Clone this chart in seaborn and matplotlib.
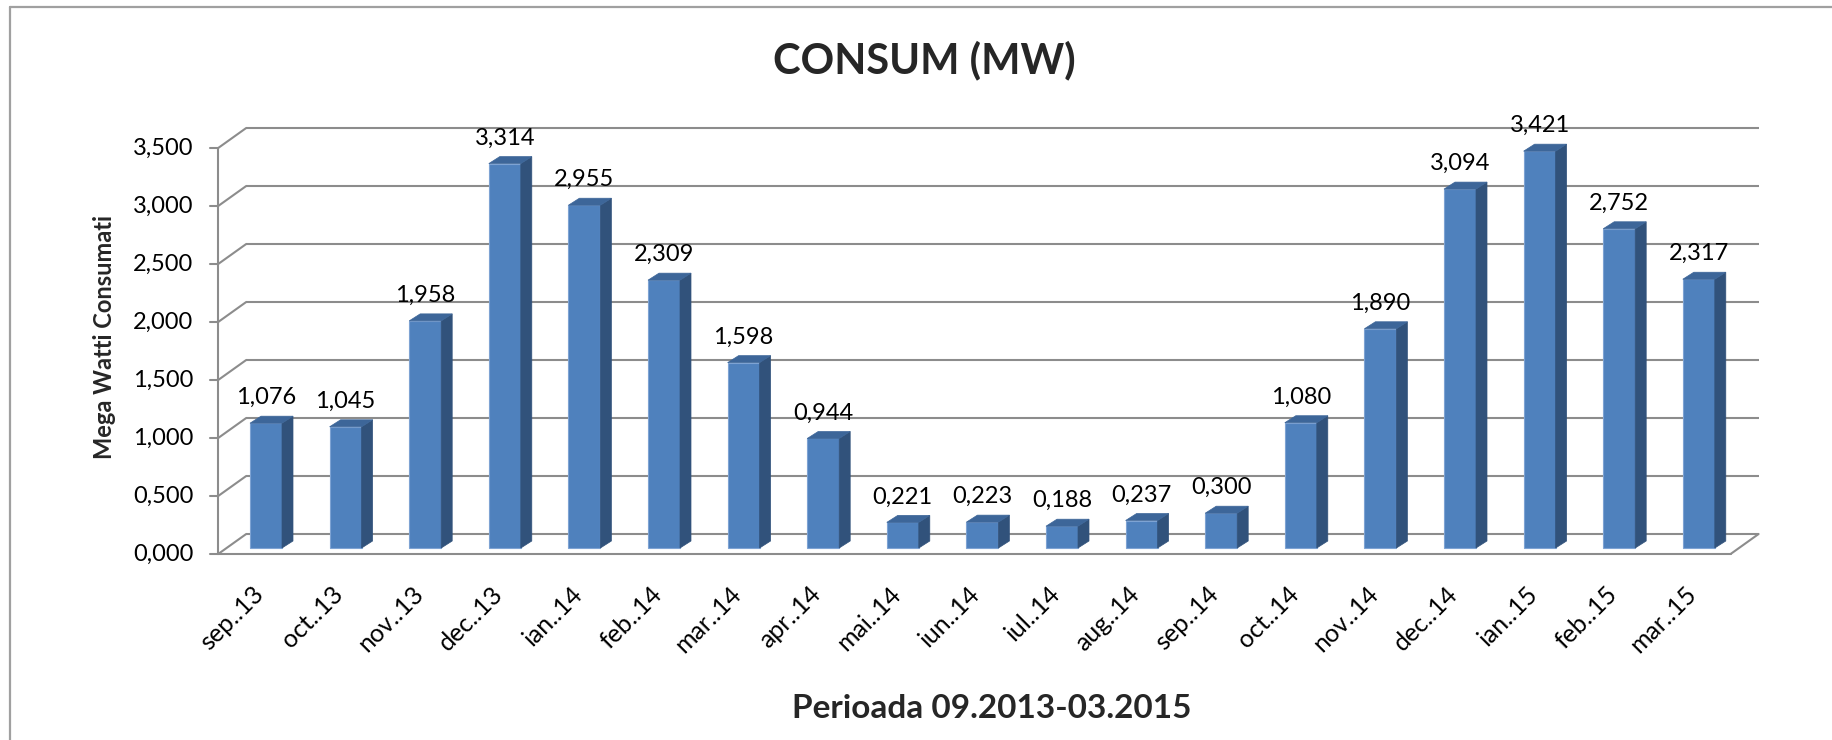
import numpy as np
import pandas as pd
import seaborn as sns
import matplotlib.pyplot as plt
from matplotlib.patches import Polygon
from matplotlib.lines import Line2D

# data
months = ["sep..13", "oct..13", "nov..13", "dec..13", "ian..14", "feb..14", "mar..14",
          "apr..14", "mai..14", "iun..14", "iul..14", "aug..14", "sep..14", "oct..14",
          "nov..14", "dec..14", "ian..15", "feb..15", "mar..15"]
consum = [1.076, 1.045, 1.958, 3.314, 2.955, 2.309, 1.598, 0.944, 0.221, 0.223,
          0.188, 0.237, 0.300, 1.080, 1.890, 3.094, 3.421, 2.752, 2.317]
yticks = [0.0, 0.5, 1.0, 1.5, 2.0, 2.5, 3.0, 3.5]

title = "CONSUM (MW)"
xlabel = "Perioada 09.2013-03.2015"
ylabel = "Mega Watti Consumati"

sns.set_theme(style="white")
plt.rcParams["font.family"] = ["Lato", "DejaVu Sans"]

W, H = 1833, 740
fig = plt.figure(figsize=(W / 100, H / 100), dpi=100)
ax = fig.add_axes([0, 0, 1, 1])

# pixel geometry of the bar plane (front faces)
X0, DX = 266.0, 79.6     # pixel x of first bar centre, pixels per category
Y0, DY = 548.0, 116.0    # pixel y (from top) of value 0, pixels per unit


def px(ox, oy):
    """pixel offset (right, up) -> data offset"""
    return ox / DX, oy / DY


FRONT = px(-8, -6)
BACK = px(20, 14)
DEPTH = px(11, 7)
BAR_W = 32 / DX

front_col = "#4F81BD"
side_col = "#31527B"
top_col = "#3D6699"
grid_col = "#8C8C8C"

df = pd.DataFrame({"luna": months, "consum": consum})

# back wall gridlines + left wall diagonals
xl, xr = -0.5, len(months) - 0.5
for v in yticks:
    ax.plot([xl + BACK[0], xr + BACK[0]], [v + BACK[1], v + BACK[1]],
            color=grid_col, lw=1.5, zorder=1, solid_capstyle="butt")
    ax.plot([xl + FRONT[0], xl + BACK[0]], [v + FRONT[1], v + BACK[1]],
            color=grid_col, lw=1.5, zorder=1)
    # tick mark
    ax.plot([xl + FRONT[0] - 8 / DX, xl + FRONT[0]], [v + FRONT[1], v + FRONT[1]],
            color=grid_col, lw=1.5, zorder=1)
    ax.text(xl + FRONT[0] - 25 / DX, v + FRONT[1], f"{v:.3f}".replace(".", ","),
            ha="right", va="center", fontsize=17, color="black")

# floor front edge, right edge, front vertical axis
ax.plot([xl + FRONT[0], xr + FRONT[0]], [FRONT[1], FRONT[1]], color=grid_col, lw=1.5, zorder=1)
ax.plot([xr + FRONT[0], xr + BACK[0]], [FRONT[1], BACK[1]], color=grid_col, lw=1.5, zorder=1)
ax.plot([xl + FRONT[0], xl + FRONT[0]], [FRONT[1], yticks[-1] + FRONT[1]],
        color=grid_col, lw=1.5, zorder=1)

# front faces of the bars
sns.barplot(data=df, x="luna", y="consum", color=front_col, saturation=1,
            width=BAR_W, edgecolor="#7EA3D3", linewidth=0.8, ax=ax, zorder=3)

# side and top faces
for i, v in enumerate(consum):
    x1 = i + BAR_W / 2
    x0 = i - BAR_W / 2
    side = Polygon([(x1, 0), (x1 + DEPTH[0], DEPTH[1]), (x1 + DEPTH[0], v + DEPTH[1]), (x1, v)],
                   closed=True, facecolor=side_col, edgecolor=side_col, lw=0.5, zorder=3)
    top = Polygon([(x0, v), (x1, v), (x1 + DEPTH[0], v + DEPTH[1]), (x0 + DEPTH[0], v + DEPTH[1])],
                  closed=True, facecolor=top_col, edgecolor=top_col, lw=0.5, zorder=3)
    ax.add_patch(side)
    ax.add_patch(top)
    ax.text(i, v + 19 / DY, f"{v:.3f}".replace(".", ","), ha="center", va="baseline",
            fontsize=17, color="black", zorder=4)
    # category labels
    ax.text(i - 6 / DX, -42 / DY, months[i], rotation=45, rotation_mode="anchor",
            ha="right", va="center", fontsize=18, color="black")

ax.set_xlim(-X0 / DX, (W - X0) / DX)
ax.set_ylim((Y0 - H) / DY, Y0 / DY)
ax.axis("off")

# titles
fig.text(924 / W, 1 - 73 / H, title, ha="center", va="baseline",
         fontsize=30, fontweight="bold")
fig.text(992 / W, 1 - 718 / H, xlabel, ha="center", va="baseline",
         fontsize=24, fontweight="bold")
fig.text(105 / W, 1 - 337 / H, ylabel, ha="center", va="center", rotation=90,
         fontsize=17, fontweight="bold")

# chart border (left and top edges visible)
fig.add_artist(Line2D([10 / W, 10 / W], [0, 1 - 7 / H], color="#A0A0A0", lw=1.6))
fig.add_artist(Line2D([10 / W, 1], [1 - 7 / H, 1 - 7 / H], color="#A0A0A0", lw=1.6))

fig.savefig("out.png", dpi=100)
